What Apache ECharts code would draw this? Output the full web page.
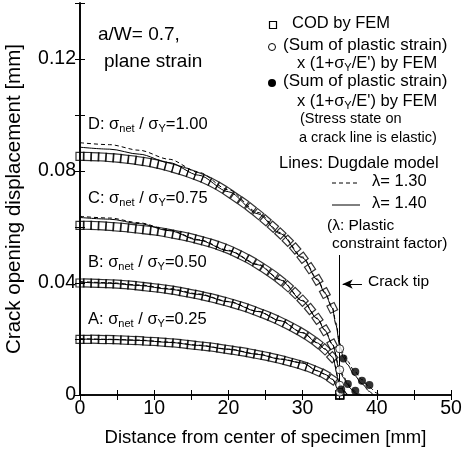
<!DOCTYPE html>
<html>
<head>
<meta charset="utf-8">
<script src="https://cdn.jsdelivr.net/npm/echarts@6/dist/echarts.min.js"></script>
<style>
  html, body { margin: 0; padding: 0; background: #fff; }
  #chart { width: 465px; height: 452px; }
</style>
</head>
<body>
<div id="chart"></div>
<script>
// COD by FEM (squares), one per node along the crack line
const femX = [0, 1, 2, 3, 4, 5, 6, 7, 8, 9, 10, 11, 12, 13, 14, 15, 16, 17, 18, 19,
  20, 21, 22, 23, 24, 25, 26, 27, 28, 29, 30, 31, 32, 33, 34, 35];
const femD = [0.0852, 0.0852, 0.0851, 0.0850, 0.0848, 0.0846, 0.0843, 0.0840, 0.0836, 0.0832,
  0.0827, 0.0821, 0.0814, 0.0806, 0.0798, 0.0789, 0.0779, 0.0768, 0.0755, 0.0740,
  0.0723, 0.0705, 0.0687, 0.0667, 0.0646, 0.0624, 0.0601, 0.0577, 0.0551, 0.0523,
  0.0490, 0.0453, 0.0411, 0.0364, 0.0311, 0];
const femC = [0.0606, 0.0606, 0.0605, 0.0604, 0.0602, 0.0600, 0.0598, 0.0595, 0.0592, 0.0589,
  0.0586, 0.0582, 0.0577, 0.0572, 0.0567, 0.0561, 0.0554, 0.0547, 0.0539, 0.0530,
  0.0520, 0.0508, 0.0495, 0.0481, 0.0465, 0.0448, 0.0430, 0.0410, 0.0388, 0.0364,
  0.0337, 0.0307, 0.0272, 0.0231, 0.0181, 0];
const femB = [0.0400, 0.0400, 0.0399, 0.0398, 0.0397, 0.0396, 0.0394, 0.0392, 0.0389, 0.0386,
  0.0383, 0.0380, 0.0376, 0.0372, 0.0367, 0.0362, 0.0357, 0.0351, 0.0345, 0.0338,
  0.0331, 0.0323, 0.0315, 0.0306, 0.0296, 0.0286, 0.0275, 0.0263, 0.0250, 0.0236,
  0.0221, 0.0204, 0.0185, 0.0163, 0.0135, 0];
const femA = [0.0199, 0.0199, 0.0199, 0.0198, 0.0198, 0.0197, 0.0196, 0.0195, 0.0194, 0.0192,
  0.0191, 0.0189, 0.0187, 0.0185, 0.0182, 0.0179, 0.0176, 0.0173, 0.0170, 0.0166,
  0.0162, 0.0158, 0.0154, 0.0149, 0.0144, 0.0139, 0.0133, 0.0127, 0.0120, 0.0113,
  0.0105, 0.0096, 0.0085, 0.0073, 0.0055, 0];

// Dugdale model, lambda = 1.40 (solid) and 1.30 (dashed)
const dugDx14 = [0, 4, 8, 12, 16, 20, 24, 27, 30, 32, 33, 34, 34.5, 35, 35.5, 36, 37, 38, 39, 39.5];
const dugDy14 = [0.0885, 0.0878, 0.0860, 0.0830, 0.0785, 0.0726, 0.0647, 0.0576, 0.0490, 0.0411,
  0.0364, 0.0311, 0.0250, 0.0175, 0.0135, 0.0110, 0.0070, 0.0040, 0.0013, 0];
const dugDx13 = [0, 4, 8, 12, 16, 20, 24, 27, 30, 32, 33, 34, 34.5, 35, 35.5, 36, 37, 38, 39, 40, 40.4];
const dugDy13 = [0.0901, 0.0894, 0.0874, 0.0842, 0.0795, 0.0733, 0.0652, 0.0580, 0.0493, 0.0414,
  0.0367, 0.0314, 0.0258, 0.0185, 0.0148, 0.0122, 0.0085, 0.0055, 0.0028, 0.0007, 0];

const dugCx14 = [0, 4, 8, 12, 16, 20, 24, 27, 30, 32, 33, 34, 35, 35.5, 36, 36.5, 37, 37.5];
const dugCy14 = [0.0634, 0.0628, 0.0612, 0.0587, 0.0553, 0.0515, 0.0465, 0.0411, 0.0336, 0.0272,
  0.0231, 0.0181, 0.0090, 0.0062, 0.0040, 0.0022, 0.0008, 0];
const dugCx13 = [0, 4, 8, 12, 16, 20, 24, 27, 30, 32, 33, 34, 35, 35.5, 36, 36.5, 37, 37.5, 38];
const dugCy13 = [0.0638, 0.0632, 0.0615, 0.0589, 0.0555, 0.0517, 0.0467, 0.0413, 0.0338, 0.0274,
  0.0233, 0.0183, 0.0096, 0.0068, 0.0046, 0.0028, 0.0014, 0.0004, 0];

const dugBx14 = [0, 4, 8, 12, 16, 20, 24, 27, 30, 32, 33, 34, 35, 35.5, 36];
const dugBy14 = [0.0403, 0.0399, 0.0391, 0.0378, 0.0359, 0.0333, 0.0298, 0.0265, 0.0222, 0.0186,
  0.0164, 0.0136, 0.0040, 0.0015, 0];
const dugBx13 = [0, 4, 8, 12, 16, 20, 24, 27, 30, 32, 33, 34, 35, 35.5, 36, 36.3];
const dugBy13 = [0.0405, 0.0401, 0.0393, 0.0380, 0.0361, 0.0334, 0.0299, 0.0266, 0.0223, 0.0187,
  0.0165, 0.0137, 0.0044, 0.0019, 0.0004, 0];

const dugAx14 = [0, 4, 8, 12, 16, 20, 24, 27, 30, 32, 33, 34, 35, 35.4];
const dugAy14 = [0.0200, 0.0198, 0.0195, 0.0188, 0.0177, 0.0163, 0.0145, 0.0128, 0.0114, 0.0086,
  0.0074, 0.0056, 0.0012, 0];
const dugAx13 = [0, 4, 8, 12, 16, 20, 24, 27, 30, 32, 33, 34, 35, 35.5];
const dugAy13 = [0.0201, 0.0199, 0.0196, 0.0189, 0.0178, 0.0164, 0.0146, 0.0129, 0.0115, 0.0087,
  0.0075, 0.0057, 0.0014, 0];

// (Sum of plastic strain) x (1+sY/E') by FEM
const plasticOpenX = [35, 35, 35, 35];
const plasticOpenY = [0.0165, 0.0090, 0.0035, 0.0010];
// same, stress state on crack line is elastic
const plasticFilledX = [35.5, 37.1, 38.0, 39.0, 36.1, 37.1, 35.2];
const plasticFilledY = [0.0130, 0.0083, 0.0051, 0.0036, 0.0039, 0.0015, 0.0020];

const FONT = '"Liberation Sans", Arial, Helvetica, sans-serif';
// rough px per data unit in the plot, only used to turn squares along the curve
const PX_X = 371 / 50;
const PX_Y = 392 / 0.14;

function pairs(xs, ys) {
  return xs.map((x, i) => [x, ys[i]]);
}

function femSeries(ys) {
  const data = femX.map((x, i) => {
    let rot = 0;
    if (i < femX.length - 1) {
      const a = Math.max(i - 1, 0), b = Math.min(i + 1, femX.length - 2);
      const dy = (ys[b] - ys[a]) * PX_Y;
      const dx = (femX[b] - femX[a]) * PX_X;
      rot = Math.atan2(dy, dx) * 180 / Math.PI;
    }
    return { value: [x, ys[i]], symbolRotate: rot };
  });
  return {
    type: 'scatter',
    symbol: 'rect',
    symbolSize: 8,
    z: 3,
    itemStyle: { color: 'rgba(0,0,0,0)', borderColor: '#000', borderWidth: 1.2 },
    data: data
  };
}

function dugSeries(xs, ys, dashed) {
  return {
    type: 'line',
    showSymbol: false,
    smooth: 0.3,
    smoothMonotone: 'x',
    z: 4,
    lineStyle: { color: '#000', width: 1, type: dashed ? [4, 3] : 'solid' },
    data: pairs(xs, ys)
  };
}

const richSig = {
  a: { fontFamily: FONT, fontSize: 16.5, lineHeight: 20, verticalAlign: 'middle' },
  s: { fontFamily: FONT, fontSize: 11, lineHeight: 11, verticalAlign: 'bottom' }
};

function txt(x, y, text, size) {
  return {
    type: 'text', left: x, top: y - 10, z: 10,
    style: { text: text, fontFamily: FONT, fontSize: size || 16.5, fill: '#000' }
  };
}

function richTxt(x, y, text) {
  return {
    type: 'text', left: x, top: y - 10, z: 10,
    style: { text: text, rich: richSig, fill: '#000', fontFamily: FONT }
  };
}

const chart = echarts.init(document.getElementById('chart'));

const axisCommon = {
  type: 'value',
  axisLine: { lineStyle: { color: '#000', width: 1.6 } },
  axisTick: { inside: true, length: 5, lineStyle: { color: '#000', width: 1 } },
  splitLine: { show: false }
};

const option = {
  animation: false,
  backgroundColor: '#fff',
  grid: { left: 80, right: 14, top: 3, bottom: 57, containLabel: false, outerBoundsMode: 'none' },
  xAxis: [
    Object.assign({}, axisCommon, {
      min: 0, max: 50, interval: 5,
      name: 'Distance from center of specimen [mm]',
      nameLocation: 'middle', nameGap: 33,
      nameTextStyle: { fontFamily: FONT, fontSize: 18.5, color: '#000' },
      axisLabel: {
        fontFamily: FONT, fontSize: 19.5, color: '#000', margin: 4,
        formatter: v => (v % 10 === 0 ? String(v) : '')
      }
    }),
    Object.assign({}, axisCommon, {
      min: 0, max: 50, interval: 5, position: 'top',
      axisLabel: { show: false }
    })
  ],
  yAxis: [
    Object.assign({}, axisCommon, {
      min: 0, max: 0.14, interval: 0.02,
      name: 'Crack opening displacement [mm]',
      nameLocation: 'middle', nameGap: 55,
      nameTextStyle: { fontFamily: FONT, fontSize: 20.5, color: '#000' },
      axisLabel: {
        fontFamily: FONT, fontSize: 19.5, color: '#000', margin: 4,
        formatter: v => {
          const k = Math.round(v * 100);
          if (k % 4 !== 0) return '';
          return k === 0 ? '0' : (k / 100).toFixed(2);
        }
      }
    }),
    Object.assign({}, axisCommon, {
      min: 0, max: 0.14, interval: 0.02, position: 'right',
      axisLabel: { show: false }
    })
  ],
  series: [
    femSeries(femD), femSeries(femC), femSeries(femB), femSeries(femA),
    dugSeries(dugDx14, dugDy14, false), dugSeries(dugDx13, dugDy13, true),
    dugSeries(dugCx14, dugCy14, false), dugSeries(dugCx13, dugCy13, true),
    dugSeries(dugBx14, dugBy14, false), dugSeries(dugBx13, dugBy13, true),
    dugSeries(dugAx14, dugAy14, false), dugSeries(dugAx13, dugAy13, true),
    {
      type: 'scatter', symbol: 'circle', symbolSize: 8, z: 5,
      itemStyle: { color: '#fff', borderColor: '#000', borderWidth: 1 },
      data: pairs(plasticOpenX, plasticOpenY),
      markLine: {
        silent: true, symbol: 'none',
        lineStyle: { color: '#000', width: 1, type: 'solid' },
        label: { show: false },
        data: [[{ coord: [35, 0] }, { coord: [35, 0.05] }]]
      }
    },
    {
      type: 'scatter', symbol: 'circle', symbolSize: 8, z: 5,
      itemStyle: { color: '#000' },
      data: pairs(plasticFilledX, plasticFilledY),
      markLine: {
        silent: true, symbol: ['arrow', 'none'], symbolSize: [7, 10],
        lineStyle: { color: '#000', width: 1, type: 'solid' },
        label: { show: false },
        data: [[{ coord: [35.4, 0.0396] }, { coord: [38.0, 0.0396] }]]
      }
    }
  ],
  graphic: [
    txt(98, 35, 'a/W= 0.7,', 19),
    txt(104, 62, 'plane strain', 19),
    richTxt(88, 126, '{a|D: σ}{s|net}{a| / σ}{s|Y}{a|=1.00}'),
    richTxt(88, 200, '{a|C: σ}{s|net}{a| / σ}{s|Y}{a|=0.75}'),
    richTxt(88, 264, '{a|B: σ}{s|net}{a| / σ}{s|Y}{a|=0.50}'),
    richTxt(88, 321, '{a|A: σ}{s|net}{a| / σ}{s|Y}{a|=0.25}'),
    // legend
    { type: 'rect', z: 10, shape: { x: 269.5, y: 21.5, width: 7, height: 7 },
      style: { fill: 'none', stroke: '#000', lineWidth: 1.2 } },
    txt(292, 25, 'COD by FEM'),
    { type: 'circle', z: 10, shape: { cx: 272, cy: 47, r: 3.5 },
      style: { fill: '#fff', stroke: '#000', lineWidth: 1 } },
    txt(283, 47, '(Sum of plastic strain)', 17),
    richTxt(297, 65, '{a|x (1+σ}{s|Y}{a|/E\') by FEM}'),
    { type: 'circle', z: 10, shape: { cx: 272, cy: 83, r: 4 },
      style: { fill: '#000' } },
    txt(283, 83, '(Sum of plastic strain)', 17),
    richTxt(297, 103, '{a|x (1+σ}{s|Y}{a|/E\') by FEM}'),
    txt(300, 121, '(Stress state on', 14.5),
    txt(299, 140, 'a crack line is elastic)', 14.5),
    txt(279, 165, 'Lines: Dugdale model'),
    { type: 'line', z: 10, shape: { x1: 332, y1: 183, x2: 360, y2: 183 },
      style: { stroke: '#000', lineWidth: 1, lineDash: [4, 3] } },
    txt(372, 183, 'λ= 1.30'),
    { type: 'line', z: 10, shape: { x1: 332, y1: 205, x2: 360, y2: 205 },
      style: { stroke: '#000', lineWidth: 1 } },
    txt(372, 205, 'λ= 1.40'),
    txt(327, 228, '(λ: Plastic', 15.5),
    txt(332, 246, 'constraint factor)', 15.5),
    txt(368, 284, 'Crack tip', 15.5)
  ]
};

chart.setOption(option);
</script>
</body>
</html>
